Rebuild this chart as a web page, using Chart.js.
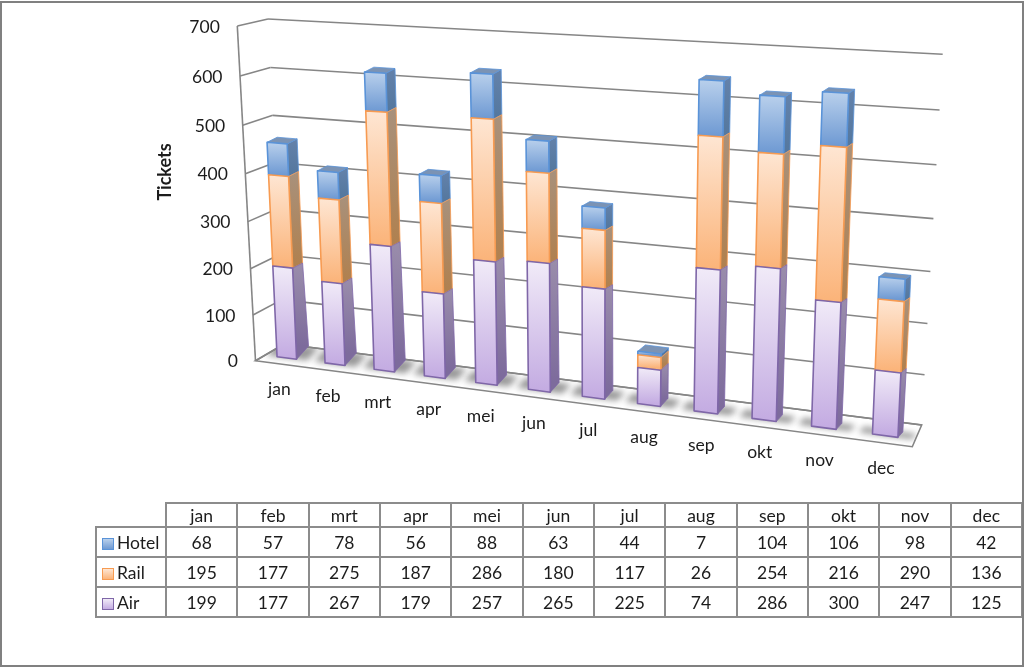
<!DOCTYPE html>
<html>
<head>
<meta charset="utf-8">
<title>Tickets</title>
<script src="https://cdn.jsdelivr.net/npm/chart.js@4/dist/chart.umd.js"></script>
<style>
html,body{margin:0;padding:0;background:#fff;}
#wrap{position:relative;width:1024px;height:667px;overflow:hidden;background:#fff;}
#frame{position:absolute;left:0;top:1px;border:2px solid #808080;box-sizing:content-box;width:1020px;height:662px;pointer-events:none;}
canvas{position:absolute;left:0;top:0;}
#table{position:absolute;left:95px;top:502px;border-collapse:collapse;table-layout:fixed;width:928px;font:17.5px Lato,sans-serif;color:#1c1c1c;}
#table td{border:2px solid #8c8c8c;text-align:center;padding:0;height:30px;box-sizing:border-box;}
#table td.blank{border-top:none;border-left:none;}
#table td.name{text-align:left;white-space:nowrap;padding-left:5px;}
#table tr.head td{height:24px;}
.key{display:inline-block;width:10px;height:10px;margin-right:3px;vertical-align:-1px;border:1px solid;}
</style>
</head>
<body>
<div id="wrap">
<canvas id="chart" width="1024" height="667"></canvas>
<table id="table"></table>
<div id="frame"></div>
</div>
<script>
var months = ['jan','feb','mrt','apr','mei','jun','jul','aug','sep','okt','nov','dec'];
var hotel = [68,57,78,56,88,63,44,7,104,106,98,42];
var rail = [195,177,275,187,286,180,117,26,254,216,290,136];
var air = [199,177,267,179,257,265,225,74,286,300,247,125];
var yTicks = [0,100,200,300,400,500,600,700];
var yTitle = 'Tickets';

var styles = {
    Hotel:{top:'#b9d0ec',bottom:'#6f9ad3',line:'#5a93d8',sideTop:'#6482ab',sideBottom:'#55789f',cap:'#7b93b4'},
    Rail:{top:'#fee6d3',bottom:'#fbb47a',line:'#f79b52',sideTop:'#a8917c',sideBottom:'#b08150',cap:'#a8917c'},
    Air:{top:'#f1ebf8',bottom:'#c4ace2',line:'#7f67a8',sideTop:'#9a8dab',sideBottom:'#7d6b9c',cap:'#9a8dab'}
};

// solves the 4 point perspective map (u,v) -> (x,y)
function homography(pts){
    var m = [];
    pts.forEach(function(p){
        m.push([p[0],p[1],1,0,0,0,-p[0]*p[2],-p[1]*p[2],p[2]]);
        m.push([0,0,0,p[0],p[1],1,-p[0]*p[3],-p[1]*p[3],p[3]]);
    });
    for (var i = 0; i < 8; i++){
        var best = i;
        for (var r = i+1; r < 8; r++){ if (Math.abs(m[r][i]) > Math.abs(m[best][i])) best = r; }
        var t = m[i]; m[i] = m[best]; m[best] = t;
        for (var k = 0; k < 8; k++){
            if (k === i) continue;
            var f = m[k][i]/m[i][i];
            for (var c = i; c < 9; c++) m[k][c] -= f*m[i][c];
        }
    }
    var h = m.map(function(row,n){ return row[8]/row[n]; });
    return function(u,v){
        var w = h[6]*u+h[7]*v+1;
        return [(h[0]*u+h[1]*v+h[2])/w,(h[3]*u+h[4]*v+h[5])/w];
    };
}

function lerp(a,b,t){ return a+(b-a)*t; }

// view of the box: walls and the front plane of the columns
var wallBack = homography([[0,0,284,344],[1,0,921.7,425],[1,700,942.7,54.3],[0,700,268,19]]);
var wallFront = homography([[0,0,255.5,360.7],[1,0,912.3,446.7],[1,700,933,64],[0,700,237.3,26]]);
var barFront = homography([[0.3/12,0,277.3,356.7],[0.3/12,462,267.3,142.3],[10.7/12,0,836,429.3],[10.7/12,635,848.3,93.3]]);

// back plane of the columns = front plane + depth, depth shrinks to the right and upwards
function barBack(u,v){
    var p = barFront(u,v);
    var s = (u-0.05)/0.85, t = Math.min(v/200,1);
    return [p[0]+lerp(lerp(12,5.5,s),lerp(10,6,s),t),p[1]+lerp(lerp(-13.3,-6,s),lerp(-5,-4,s),t)];
}

function poly(ctx,pts){
    ctx.beginPath();
    pts.forEach(function(p,i){ if (i) ctx.lineTo(p[0],p[1]); else ctx.moveTo(p[0],p[1]); });
    ctx.closePath();
}
function segment(ctx,a,b){
    ctx.beginPath();
    ctx.moveTo(a[0],a[1]);
    ctx.lineTo(b[0],b[1]);
    ctx.stroke();
}

var chartRef = null;

function datasetIndexOf(c,el){
    for (var i = 0; i < c.data.datasets.length; i++){
        if (c.getDatasetMeta(i).data.indexOf(el) >= 0) return i;
    }
    return 0;
}

// columns are drawn as boxes, from what the bar controller computed
Chart.BarElement.prototype.draw = function(ctx){
    var c = chartRef, area = c.chartArea, yScale = c.scales.y;
    var p = this.getProps(['x','y','base','width'],true);
    var uL = (p.x-p.width/2-area.left)/area.width;
    var uR = (p.x+p.width/2-area.left)/area.width;
    var vTop = yScale.getValueForPixel(p.y);
    var vBase = yScale.getValueForPixel(p.base);
    var dsIndex = datasetIndexOf(c,this);
    var s = styles[c.data.datasets[dsIndex].label];
    var fl = barFront(uL,vBase), fr = barFront(uR,vBase), tl = barFront(uL,vTop), tr = barFront(uR,vTop);
    var bl = barBack(uL,vTop), br = barBack(uR,vTop), bb = barBack(uR,vBase);

    ctx.save();
    ctx.lineJoin = 'round';
    var side = ctx.createLinearGradient(0,br[1],0,bb[1]);
    side.addColorStop(0,s.sideTop);
    side.addColorStop(1,s.sideBottom);
    poly(ctx,[tr,br,bb,fr]);
    ctx.fillStyle = side;
    ctx.fill();
    ctx.strokeStyle = s.line;
    ctx.lineWidth = 0.8;
    ctx.stroke();

    if (dsIndex === c.data.datasets.length-1){
        poly(ctx,[tl,tr,br,bl]);
        ctx.fillStyle = s.cap;
        ctx.fill();
        ctx.stroke();
    }

    var front = ctx.createLinearGradient(0,tl[1],0,fl[1]);
    front.addColorStop(0,s.top);
    front.addColorStop(1,s.bottom);
    poly(ctx,[tl,tr,fr,fl]);
    ctx.fillStyle = front;
    ctx.fill();
    ctx.lineWidth = 1.6;
    ctx.stroke();
    ctx.restore();
};

var box3d = {
    id:'box3d',
    beforeDatasetsDraw:function(c){
        chartRef = c;
        var ctx = c.ctx, area = c.chartArea, xScale = c.scales.x, yScale = c.scales.y;
        ctx.save();

        // floor
        var floor = [wallFront(0,0),wallFront(1,0),wallBack(1,0),wallBack(0,0)];
        poly(ctx,floor);
        ctx.strokeStyle = '#868686';
        ctx.lineWidth = 1.6;
        ctx.stroke();

        // shadows under the columns
        ctx.save();
        poly(ctx,floor);
        ctx.clip();
        ctx.filter = 'blur(3px)';
        ctx.fillStyle = 'rgba(85,85,85,0.6)';
        c.getDatasetMeta(0).data.forEach(function(el){
            var uL = (el.x-el.width*1.05-area.left)/area.width;
            var uR = (el.x+el.width*1.05-area.left)/area.width;
            poly(ctx,[barFront(uL,0),barFront(uR,0),barBack(uR,0),barBack(uL,0)]);
            ctx.fill();
        });
        ctx.restore();

        // walls and gridlines
        ctx.strokeStyle = '#868686';
        ctx.lineWidth = 1.6;
        segment(ctx,wallFront(0,0),wallFront(0,700));
        yScale.ticks.forEach(function(t){
            segment(ctx,wallFront(0,t.value),wallBack(0,t.value));
            segment(ctx,wallBack(0,t.value),wallBack(1,t.value));
        });

        // tick labels
        ctx.fillStyle = '#1c1c1c';
        ctx.font = '17.5px Lato, sans-serif';
        ctx.textBaseline = 'middle';
        ctx.textAlign = 'right';
        yScale.ticks.forEach(function(t){
            var p = wallFront(0,t.value);
            ctx.fillText(t.label,p[0]-17.5,p[1]+1);
        });
        ctx.textAlign = 'center';
        xScale.ticks.forEach(function(t,i){
            var p = wallFront((xScale.getPixelForTick(i)-area.left)/area.width,0);
            ctx.fillText(t.label,p[0],p[1]+26);
        });

        // axis title
        ctx.save();
        ctx.translate(165,172);
        ctx.rotate(-Math.PI/2);
        ctx.font = 'bold 18px Lato, sans-serif';
        ctx.fillText(yTitle,0,0);
        ctx.restore();

        ctx.restore();
    }
};

new Chart(document.getElementById('chart').getContext('2d'),{
    type:'bar',
    data:{
        labels:months,
        datasets:[
            {label:'Air',data:air,clip:false},
            {label:'Rail',data:rail,clip:false},
            {label:'Hotel',data:hotel,clip:false}
        ]
    },
    options:{
        responsive:false,
        animation:false,
        devicePixelRatio:1,
        layout:{padding:{left:260,right:100,top:28,bottom:307}},
        categoryPercentage:1,
        barPercentage:0.41,
        plugins:{legend:{display:false},tooltip:{enabled:false}},
        scales:{
            x:{stacked:true,display:false},
            y:{stacked:true,display:false,min:0,max:700,afterBuildTicks:function(s){ s.ticks = yTicks.map(function(v){ return {value:v,label:String(v)}; }); }}
        }
    },
    plugins:[box3d]
});

// data table under the chart
var table = document.getElementById('table');
var colgroup = document.createElement('colgroup');
var first = document.createElement('col');
first.style.width = '70px';
colgroup.appendChild(first);
months.forEach(function(){
    colgroup.appendChild(document.createElement('col'));
});
table.appendChild(colgroup);
var head = document.createElement('tr');
head.className = 'head';
var blank = document.createElement('td');
blank.className = 'blank';
head.appendChild(blank);
months.forEach(function(m){
    var td = document.createElement('td');
    td.textContent = m;
    head.appendChild(td);
});
table.appendChild(head);
[['Hotel',hotel],['Rail',rail],['Air',air]].forEach(function(row){
    var tr = document.createElement('tr');
    var name = document.createElement('td');
    name.className = 'name';
    var key = document.createElement('span');
    key.className = 'key';
    var s = styles[row[0]];
    key.style.background = 'linear-gradient('+s.top+','+s.bottom+')';
    key.style.borderColor = s.line;
    name.appendChild(key);
    name.appendChild(document.createTextNode(row[0]));
    tr.appendChild(name);
    row[1].forEach(function(v){
        var td = document.createElement('td');
        td.textContent = v;
        tr.appendChild(td);
    });
    table.appendChild(tr);
});
</script>
</body>
</html>
